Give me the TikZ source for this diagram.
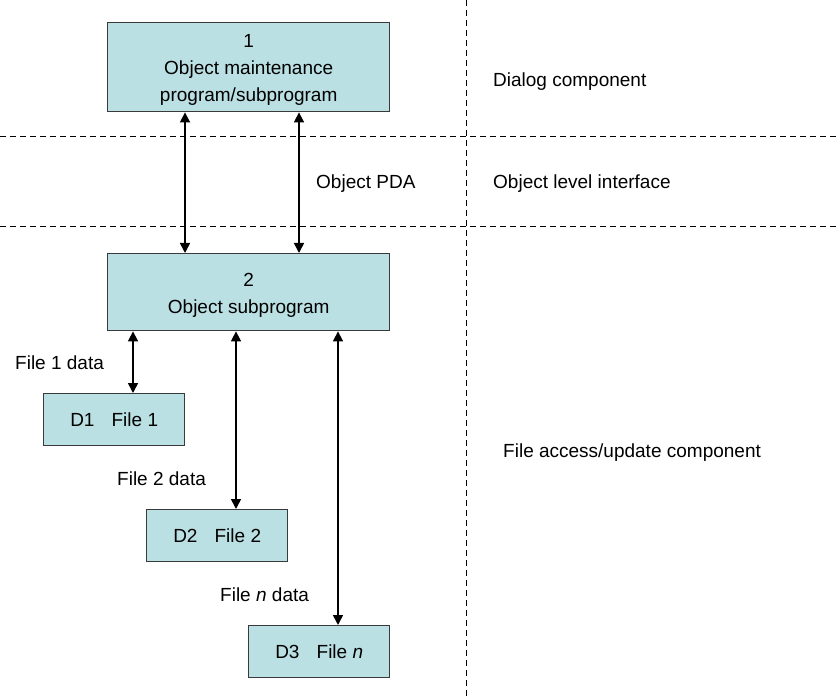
\documentclass[tikz,border=0pt]{standalone}
\usepackage{fontspec}
\setmainfont{Liberation Sans}
\usetikzlibrary{arrows.meta}
\definecolor{boxfill}{HTML}{BBE0E3}
\definecolor{boxline}{HTML}{3A3A3A}
\begin{document}
\begin{tikzpicture}[x=1pt,y=-1pt,
  every node/.style={font=\fontsize{19}{27}\selectfont, inner sep=0pt},
  procbox/.style={draw=boxline, line width=1.4pt, fill=boxfill,
    anchor=north west},
  boxtext/.style={align=center},
  filebox/.style={procbox, minimum width=141pt, minimum height=52pt},
  note/.style={anchor=west},
  connector/.style={line width=1.6pt,
    {Triangle[length=10pt,width=10pt]}-{Triangle[length=10pt,width=10pt]}},
  divider/.style={line width=1pt, dash pattern=on 6pt off 4pt}]
  \useasboundingbox (0,0) rectangle (840,700);

  % layer dividers
  \coordinate (hl1) at (0,137);   \coordinate (hr1) at (840,137);
  \coordinate (hl2) at (0,227);   \coordinate (hr2) at (840,227);
  \coordinate (vt) at (466,0);    \coordinate (vb) at (466,700);
  \draw[divider] (hl1) -- (hr1);
  \draw[divider] (hl2) -- (hr2);
  \draw[divider] (vt) -- (vb);

  % processing boxes
  \node[procbox, minimum width=282pt, minimum height=89pt] (b1) at (107,22) {};
  \node[boxtext] (b1t) at ([yshift=-3pt]b1.center)
    {1\\Object maintenance\\program/subprogram};
  \node[procbox, minimum width=282pt, minimum height=77pt] (b2) at (107,253) {};
  \node[boxtext] (b2t) at ([yshift=-3pt]b2.center)
    {2\\Object subprogram};

  % file boxes
  \node[filebox] (d1) at (43,393) {D1\hspace{0.9em}File 1};
  \node[filebox] (d2) at (146,509) {D2\hspace{0.9em}File 2};
  \node[filebox] (d3) at (248,625) {D3\hspace{0.9em}File \textit{n}};

  % x positions of the connectors
  \coordinate (xa) at (185,0);
  \coordinate (xb) at (299,0);
  \coordinate (x1) at (133,0);
  \coordinate (x2) at (236,0);
  \coordinate (x3) at (338,0);

  \draw[connector] (xa |- b1.south) -- (xa |- b2.north);
  \draw[connector] (xb |- b1.south) -- (xb |- b2.north);
  \draw[connector] (x1 |- b2.south) -- (x1 |- d1.north);
  \draw[connector] (x2 |- b2.south) -- (x2 |- d2.north);
  \draw[connector] (x3 |- b2.south) -- (x3 |- d3.north);

  % connector labels
  \node[note] (pda) at (316,184) {Object PDA};
  \node[note] (f1) at (15,363) {File 1 data};
  \node[note] (f2) at (117,479) {File 2 data};
  \node[note] (fn) at (220,595) {File \textit{n} data};

  % layer names
  \node[note] (dlg) at (493,82) {Dialog component};
  \node[note] (oli) at (493,184) {Object level interface};
  \node[note] (fac) at (503,453) {File access/update component};
\end{tikzpicture}
\end{document}
